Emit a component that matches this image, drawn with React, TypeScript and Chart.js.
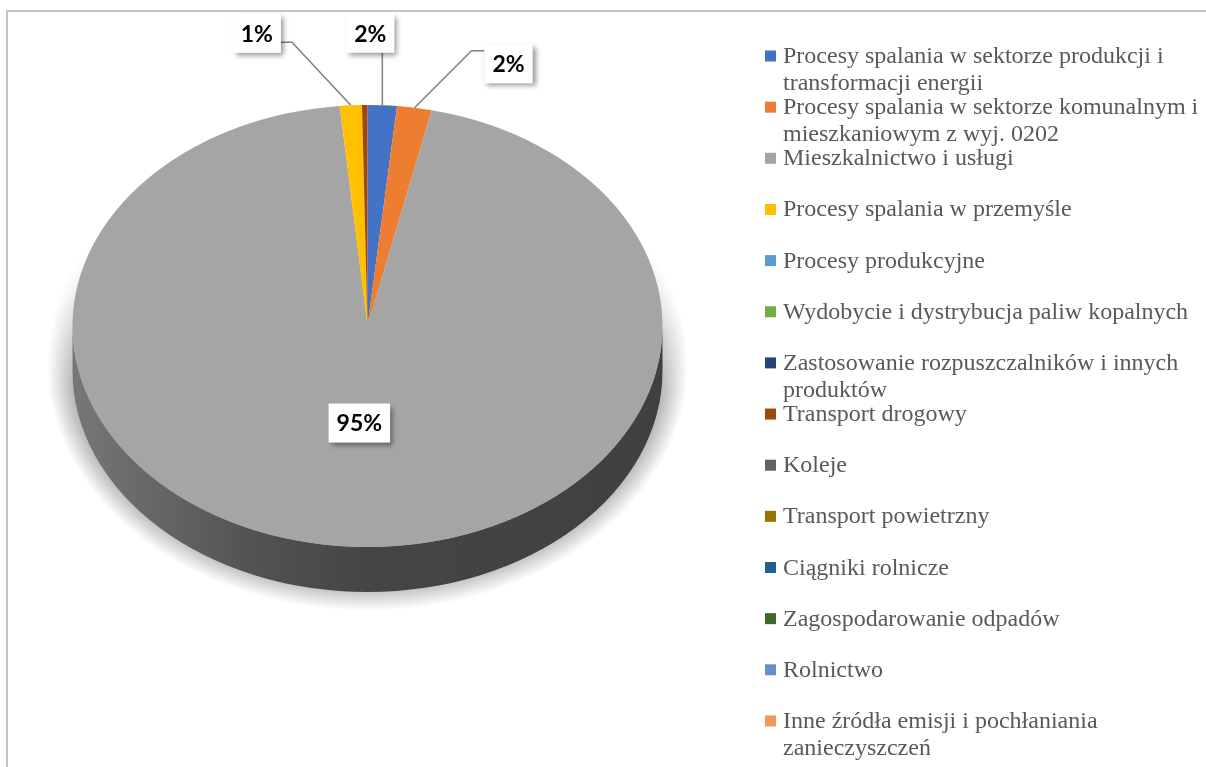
import React, { useEffect, useRef } from 'react';
import { Chart, registerables } from 'chart.js';

Chart.register(...registerables);

// ---- data ----
const categories: string[] = [
  'Procesy spalania w sektorze produkcji i transformacji energii',
  'Procesy spalania w sektorze komunalnym i mieszkaniowym z wyj. 0202',
  'Mieszkalnictwo i usługi',
  'Procesy spalania w przemyśle',
  'Procesy produkcyjne',
  'Wydobycie i dystrybucja paliw kopalnych',
  'Zastosowanie rozpuszczalników i innych produktów',
  'Transport drogowy',
  'Koleje',
  'Transport powietrzny',
  'Ciągniki rolnicze',
  'Zagospodarowanie odpadów',
  'Rolnictwo',
  'Inne źródła emisji i pochłaniania zanieczyszczeń',
];
const shares: number[] = [1.6, 1.9, 95.0, 1.2, 0, 0, 0, 0.3, 0, 0, 0, 0, 0, 0];
const colors: string[] = [
  '#4472C4', '#ED7D31', '#A5A5A5', '#FFC000', '#5B9BD5', '#70AD47', '#264478',
  '#9E480E', '#636363', '#997300', '#255E91', '#43682B', '#698ED0', '#F1975A',
];

// ---- layout / style ----
const TILT = 221 / 295;
const DEPTH = 45;
const LABEL_FONT = 'bold 23px Lato';
const BOX_PAD_X = 8;
const BOX_H = 39;
type LabelCfg = { inside?: number; dx?: number; dy?: number; attach?: 'bottom' | 'left' | 'right'; along?: number; elbow?: number };
const labelLayout: Record<number, LabelCfg> = {
  0: { dx: -12, dy: -72, attach: 'bottom' },
  1: { dx: 94, dy: -44, attach: 'left', along: -13, elbow: 13 },
  2: { inside: 0.44 },
  3: { dx: -94, dy: -72, attach: 'right', along: 9, elbow: 11 },
};
const LEG_BOX_X = 757;
const LEG_TEXT_X = 775;
const LEG_BASE = 51;
const LEG_STEP = 51.15;
const LEG_LINE = 27;
const LEG_MAXW = 425;
const LEG_FONT = '24px "Liberation Serif"';

function shade(hex: string, f: number): string {
  const n = parseInt(hex.slice(1), 16);
  const r = Math.round(((n >> 16) & 255) * f);
  const g = Math.round(((n >> 8) & 255) * f);
  const b = Math.round((n & 255) * f);
  return `rgb(${r},${g},${b})`;
}

function wrap(ctx: CanvasRenderingContext2D, text: string, maxW: number): string[] {
  const words = text.split(' ');
  const lines: string[] = [];
  let cur = '';
  for (const w of words) {
    const test = cur ? cur + ' ' + w : w;
    if (cur && ctx.measureText(test).width > maxW) {
      lines.push(cur);
      cur = w;
    } else cur = test;
  }
  if (cur) lines.push(cur);
  return lines;
}

const pie3d = {
  id: 'pie3d',
  beforeDatasetsDraw(chart: any) {
    const ctx: CanvasRenderingContext2D = chart.ctx;
    const arcs = chart.getDatasetMeta(0).data as any[];
    const { x: cx, y: cy, outerRadius: R } = arcs[0];
    const ry = R * TILT;

    // soft halo: stacked translucent ellipses, faded toward the top
    const off = document.createElement('canvas');
    off.width = chart.width;
    off.height = chart.height;
    const o = off.getContext('2d') as CanvasRenderingContext2D;
    const RINGS = 24;
    o.fillStyle = 'rgba(0,0,0,0.016)';
    for (let j = 0; j < RINGS; j++) {
      const grow = 25 - j;
      o.beginPath();
      o.ellipse(cx, cy + DEPTH * 0.85, R + grow, ry + grow, 0, 0, Math.PI * 2);
      o.fill();
    }
    o.globalCompositeOperation = 'destination-in';
    const mg = o.createLinearGradient(0, cy - 95, 0, cy + 70);
    mg.addColorStop(0, 'rgba(0,0,0,0)');
    mg.addColorStop(1, 'rgba(0,0,0,1)');
    o.fillStyle = mg;
    o.fillRect(0, 0, off.width, off.height);
    ctx.drawImage(off, 0, 0);

    // side walls (front half only)
    arcs.forEach((arc: any, i: number) => {
      if (!shares[i]) return;
      const s = arc.startAngle, e = arc.endAngle;
      for (const k of [-2 * Math.PI, 0, 2 * Math.PI]) {
        const a = Math.max(s + k, 0), b = Math.min(e + k, Math.PI);
        if (b <= a) continue;
        const g = ctx.createLinearGradient(cx - R, 0, cx + R, 0);
        g.addColorStop(0, shade(colors[i], 0.72));
        g.addColorStop(0.3, shade(colors[i], 0.5));
        g.addColorStop(0.5, shade(colors[i], 0.42));
        g.addColorStop(1, shade(colors[i], 0.39));
        ctx.beginPath();
        ctx.ellipse(cx, cy, R, ry, 0, a, b, false);
        ctx.ellipse(cx, cy + DEPTH, R, ry, 0, b, a, true);
        ctx.closePath();
        ctx.fillStyle = g;
        ctx.fill();
      }
    });

    ctx.save();
    ctx.translate(0, cy);
    ctx.scale(1, TILT);
    ctx.translate(0, -cy);
  },
  afterDatasetsDraw(chart: any) {
    const ctx: CanvasRenderingContext2D = chart.ctx;
    ctx.restore();
    const arcs = chart.getDatasetMeta(0).data as any[];
    const { x: cx, y: cy, outerRadius: R } = arcs[0];
    const total = shares.reduce((a, b) => a + b, 0);
    ctx.save();
    ctx.font = LABEL_FONT;
    const items: any[] = [];
    Object.keys(labelLayout).forEach((key) => {
      const i = Number(key);
      const L = labelLayout[i];
      const arc = arcs[i];
      const mid = (arc.startAngle + arc.endAngle) / 2;
      const text = Math.round((shares[i] / total) * 100) + '%';
      const bw = ctx.measureText(text).width + BOX_PAD_X * 2;
      let bx: number, by: number;
      let leader: number[][] | null = null;
      if (L.inside != null) {
        bx = cx + L.inside * R * Math.cos(mid);
        by = cy + L.inside * R * TILT * Math.sin(mid);
      } else {
        const ax = cx + R * Math.cos(mid);
        const ay = cy + R * TILT * Math.sin(mid);
        bx = ax + (L.dx || 0);
        by = ay + (L.dy || 0);
        if (L.attach === 'bottom') leader = [[ax, ay], [ax, by + BOX_H / 2]];
        else if (L.attach === 'right') {
          const px = bx + bw / 2, py = by + (L.along || 0);
          leader = [[ax, ay], [px + (L.elbow || 0), py], [px, py]];
        } else {
          const px = bx - bw / 2, py = by + (L.along || 0);
          leader = [[ax, ay], [px - (L.elbow || 0), py], [px, py]];
        }
      }
      items.push({ text, bx, by, bw, leader });
    });
    ctx.strokeStyle = '#7f7f7f';
    ctx.lineWidth = 1.5;
    items.forEach((it) => {
      if (!it.leader) return;
      ctx.beginPath();
      it.leader.forEach((p: number[], j: number) => (j ? ctx.lineTo(p[0], p[1]) : ctx.moveTo(p[0], p[1])));
      ctx.stroke();
    });
    items.forEach((it) => {
      ctx.save();
      ctx.shadowColor = 'rgba(0,0,0,0.4)';
      ctx.shadowBlur = 5;
      ctx.shadowOffsetX = 3;
      ctx.shadowOffsetY = 3;
      ctx.fillStyle = '#ffffff';
      ctx.fillRect(it.bx - it.bw / 2, it.by - BOX_H / 2, it.bw, BOX_H);
      ctx.restore();
      ctx.fillStyle = '#000000';
      ctx.textAlign = 'center';
      ctx.textBaseline = 'middle';
      ctx.fillText(it.text, it.bx, it.by + 1);
    });
    ctx.restore();
  },
  afterDraw(chart: any) {
    const ctx: CanvasRenderingContext2D = chart.ctx;
    ctx.save();
    ctx.font = LEG_FONT;
    ctx.textBaseline = 'alphabetic';
    ctx.textAlign = 'left';
    categories.forEach((c, i) => {
      const base = LEG_BASE + i * LEG_STEP;
      ctx.fillStyle = colors[i];
      ctx.fillRect(LEG_BOX_X, base - 12.5, 11, 11);
      ctx.fillStyle = '#595959';
      wrap(ctx, c, LEG_MAXW).forEach((ln, j) => ctx.fillText(ln, LEG_TEXT_X, base + j * LEG_LINE));
    });
    ctx.restore();
  },
};

export default function App() {
  const ref = useRef<HTMLCanvasElement | null>(null);
  useEffect(() => {
    if (!ref.current) return;
    const chart = new Chart(ref.current, {
      type: 'pie',
      data: {
        labels: categories,
        datasets: [
          {
            data: shares,
            backgroundColor: colors,
            borderWidth: 0,
            hoverOffset: 0,
            clip: false as any,
          } as any,
        ],
      },
      options: {
        responsive: false,
        animation: false,
        devicePixelRatio: 1,
        events: [],
        radius: 295,
        layout: { padding: { left: 64, right: 543, top: 19, bottom: 151 } },
        plugins: { legend: { display: false }, tooltip: { enabled: false } },
      } as any,
      plugins: [pie3d],
    });
    return () => chart.destroy();
  }, []);
  return (
    <div
      style={{
        position: 'fixed',
        left: 6,
        top: 10,
        width: 1206,
        height: 770,
        border: '2px solid #c4c4c4',
        background: '#ffffff',
      }}
    >
      <canvas ref={ref} width={1198} height={760} style={{ display: 'block' }} />
    </div>
  );
}
